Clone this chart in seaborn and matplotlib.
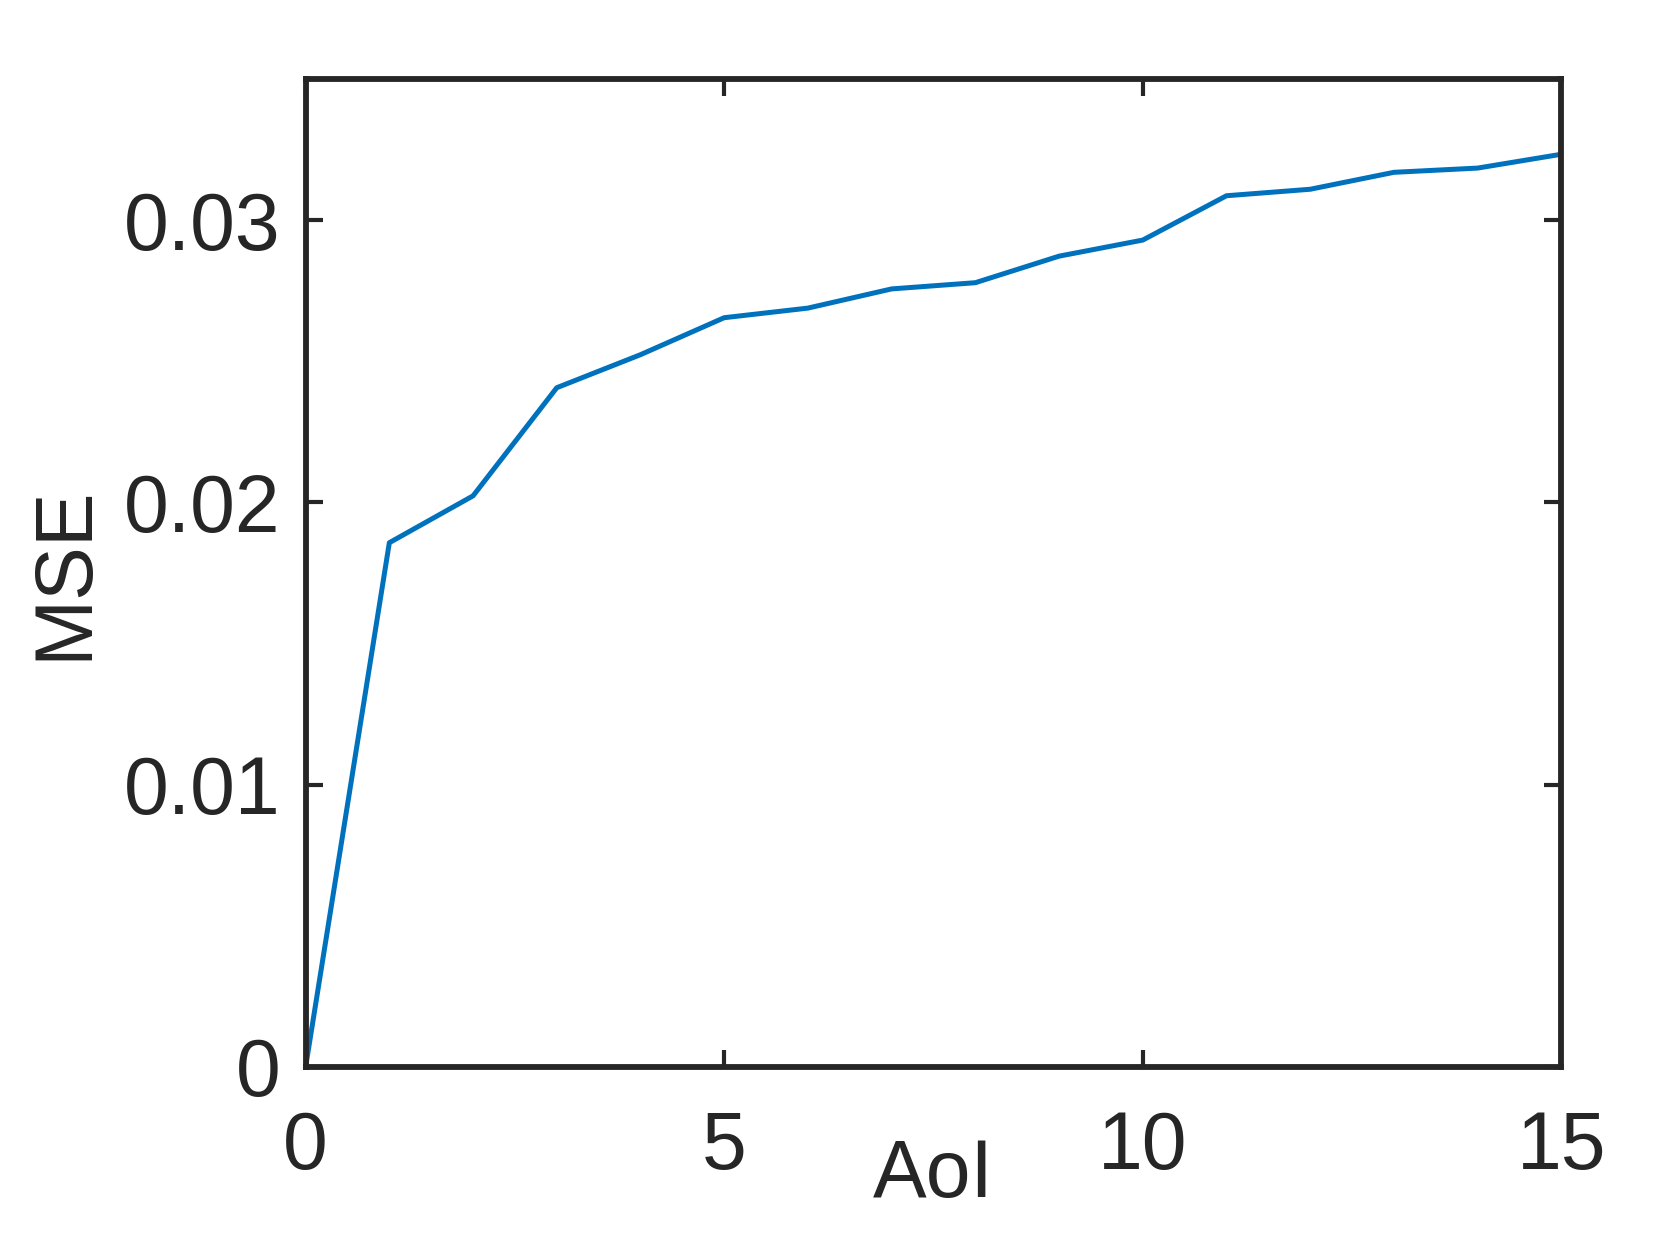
import numpy as np
import pandas as pd
import matplotlib
matplotlib.use("Agg")
import matplotlib.pyplot as plt
import seaborn as sns

# values
aoi = [0, 1, 2, 3, 4, 5, 6, 7, 8, 9, 10, 11, 12, 13, 14, 15]
mse = [0.0, 0.01857, 0.02023, 0.02406, 0.02523, 0.02654, 0.02688, 0.02756,
       0.02778, 0.02872, 0.02929, 0.03086, 0.03109, 0.03169, 0.03184, 0.03233]
x_ticks = [0, 5, 10, 15]
y_ticks = [0, 0.01, 0.02, 0.03]
y_tick_labels = ["0", "0.01", "0.02", "0.03"]

sns.set_style("ticks")
plt.rcParams["font.family"] = ["Liberation Sans", "DejaVu Sans"]

INK = "#262626"
df = pd.DataFrame({"AoI": aoi, "MSE": mse})

fig = plt.figure(figsize=(16.61, 12.46), dpi=100)
ax = fig.add_axes([0.184, 0.1437, 0.756, 0.793])
sns.lineplot(data=df, x="AoI", y="MSE", ax=ax, color="#0072BD", lw=3.6)

ax.set_xlim(0, 15)
ax.set_ylim(0, 0.035)
ax.set_xticks(x_ticks)
ax.set_xticklabels([str(t) for t in x_ticks])
ax.set_yticks(y_ticks)
ax.set_yticklabels(y_tick_labels)

for s in ax.spines.values():
    s.set_visible(True)
    s.set_linewidth(4.2)
    s.set_color(INK)
ax.tick_params(direction="in", length=12, width=3, colors=INK, labelsize=58,
               top=True, right=True)
ax.tick_params(axis="x", pad=31)
ax.tick_params(axis="y", pad=18)

ax.set_xlabel("AoI", fontsize=58, color=INK)
ax.set_ylabel("MSE", fontsize=58, color=INK)
ax.xaxis.set_label_coords(0.5, -0.072)
ax.yaxis.set_label_coords(-0.161, 0.5)

fig.savefig("out.png", dpi=100)
plt.close()
